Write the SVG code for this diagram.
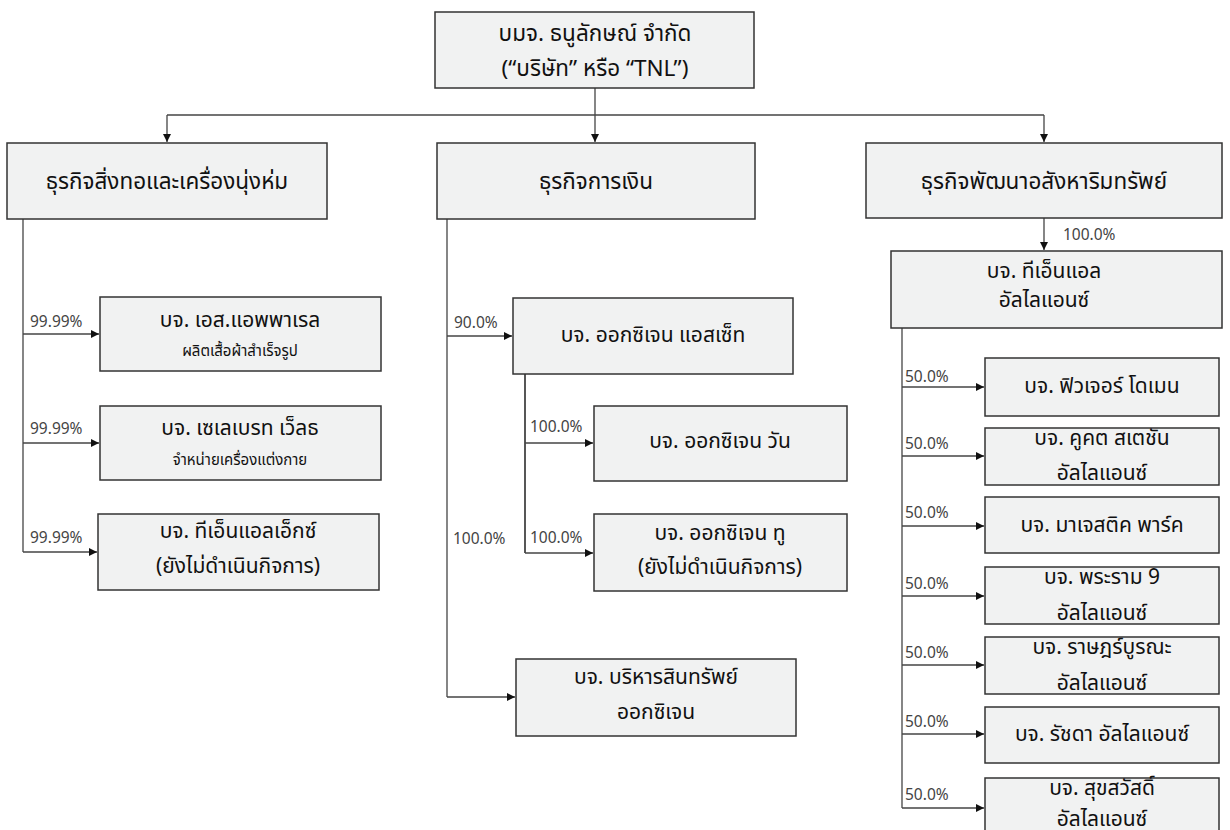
<svg xmlns="http://www.w3.org/2000/svg" width="1230" height="830" viewBox="0 0 1230 830">
<style>
.box{fill:#f1f2f2;stroke:#333;stroke-width:1.5}
.t{font-family:"Noto Sans Thai","Tahoma","DejaVu Sans","Noto Sans",sans-serif;fill:#111;text-anchor:middle}
.big{font-size:22.5px}
.mid{font-size:21px}
.sm{font-size:15px}
.pct{font-family:"Noto Sans Thai","Tahoma","DejaVu Sans","Noto Sans",sans-serif;font-size:15.5px;fill:#444}
.ln{fill:none;stroke:#444;stroke-width:1.3}
</style>
<defs>
<marker id="ah" markerUnits="userSpaceOnUse" markerWidth="9" markerHeight="9" refX="8" refY="4" orient="auto">
<path d="M0,0 L8,4 L0,8 z" fill="#111"/>
</marker>
</defs>
<rect width="1230" height="830" fill="#fff"/>
<g id="connectors">
<path class="ln" d="M595,88 V142" marker-end="url(#ah)"/>
<path class="ln" d="M167,115 H1044"/>
<path class="ln" d="M167,115 V142" marker-end="url(#ah)"/>
<path class="ln" d="M1044,115 V142" marker-end="url(#ah)"/>
<path class="ln" d="M23,219 V552"/>
<path class="ln" d="M23,334 H99" marker-end="url(#ah)"/>
<path class="ln" d="M23,443 H99" marker-end="url(#ah)"/>
<path class="ln" d="M23,552 H97" marker-end="url(#ah)"/>
<path class="ln" d="M447,219 V697"/>
<path class="ln" d="M447,336 H512" marker-end="url(#ah)"/>
<path class="ln" d="M447,697 H515" marker-end="url(#ah)"/>
<path class="ln" d="M525,374 V553" style="stroke-width:1.8"/>
<path class="ln" d="M525,443 H593" marker-end="url(#ah)"/>
<path class="ln" d="M525,553 H593" marker-end="url(#ah)"/>
<path class="ln" d="M1044,218 V250" marker-end="url(#ah)"/>
<path class="ln" d="M902,328 V808"/>
<path class="ln" d="M902,387 H984" marker-end="url(#ah)"/>
<path class="ln" d="M902,456 H984" marker-end="url(#ah)"/>
<path class="ln" d="M902,526 H984" marker-end="url(#ah)"/>
<path class="ln" d="M902,596 H984" marker-end="url(#ah)"/>
<path class="ln" d="M902,665 H984" marker-end="url(#ah)"/>
<path class="ln" d="M902,734 H984" marker-end="url(#ah)"/>
<path class="ln" d="M902,808 H984" marker-end="url(#ah)"/>
<text class="pct" x="30" y="327">99.99%</text>
<text class="pct" x="30" y="434">99.99%</text>
<text class="pct" x="30" y="543">99.99%</text>
<text class="pct" x="454" y="328">90.0%</text>
<text class="pct" x="530" y="432">100.0%</text>
<text class="pct" x="530" y="543">100.0%</text>
<text class="pct" x="453" y="544">100.0%</text>
<text class="pct" x="1063" y="240">100.0%</text>
<text class="pct" x="905" y="382">50.0%</text>
<text class="pct" x="905" y="449">50.0%</text>
<text class="pct" x="905" y="518">50.0%</text>
<text class="pct" x="905" y="589">50.0%</text>
<text class="pct" x="905" y="658">50.0%</text>
<text class="pct" x="905" y="727">50.0%</text>
<text class="pct" x="905" y="800">50.0%</text>
</g>
<g id="tnl">
<rect class="box" x="435" y="12" width="319" height="76"/>
<text class="t big" x="595" y="41">บมจ. ธนูลักษณ์ จำกัด</text>
<text class="t big" x="595" y="76">(“บริษัท” หรือ “TNL”)</text>
</g>
<g id="textile">
<rect class="box" x="7" y="143" width="320" height="76"/>
<text class="t big" x="167" y="189">ธุรกิจสิ่งทอและเครื่องนุ่งห่ม</text>
</g>
<g id="finance">
<rect class="box" x="437" y="143" width="318" height="76"/>
<text class="t big" x="596" y="189">ธุรกิจการเงิน</text>
</g>
<g id="property">
<rect class="box" x="866" y="143" width="356" height="75"/>
<text class="t big" x="1044" y="189">ธุรกิจพัฒนาอสังหาริมทรัพย์</text>
</g>
<g id="s-apparel">
<rect class="box" x="100" y="297" width="281" height="74"/>
<text class="t mid" x="240" y="327">บจ. เอส.แอพพาเรล</text>
<text class="t sm" x="240" y="356">ผลิตเสื้อผ้าสำเร็จรูป</text>
</g>
<g id="celebrate">
<rect class="box" x="100" y="406" width="281" height="74"/>
<text class="t mid" x="240" y="435">บจ. เซเลเบรท เว็ลธ</text>
<text class="t sm" x="240" y="465">จำหน่ายเครื่องแต่งกาย</text>
</g>
<g id="tnlx">
<rect class="box" x="98" y="514" width="281" height="76"/>
<text class="t mid" x="238" y="538">บจ. ทีเอ็นแอลเอ็กซ์</text>
<text class="t mid" x="238" y="573">(ยังไม่ดำเนินกิจการ)</text>
</g>
<g id="oxygen-asset">
<rect class="box" x="513" y="298" width="280" height="76"/>
<text class="t mid" x="653" y="342">บจ. ออกซิเจน แอสเซ็ท</text>
</g>
<g id="oxygen-one">
<rect class="box" x="594" y="406" width="253" height="75"/>
<text class="t mid" x="720" y="448">บจ. ออกซิเจน วัน</text>
</g>
<g id="oxygen-two">
<rect class="box" x="594" y="514" width="253" height="77"/>
<text class="t mid" x="720" y="540">บจ. ออกซิเจน ทู</text>
<text class="t mid" x="720" y="574">(ยังไม่ดำเนินกิจการ)</text>
</g>
<g id="oxygen-am">
<rect class="box" x="516" y="659" width="280" height="77"/>
<text class="t mid" x="656" y="684">บจ. บริหารสินทรัพย์</text>
<text class="t mid" x="656" y="719">ออกซิเจน</text>
</g>
<g id="tnl-alliance">
<rect class="box" x="891" y="251" width="331" height="77"/>
<text class="t mid" x="1044" y="278">บจ. ทีเอ็นแอล</text>
<text class="t mid" x="1044" y="307">อัลไลแอนซ์</text>
</g>
<g id="future-domain">
<rect class="box" x="985" y="358" width="234" height="58"/>
<text class="t mid" x="1102" y="393">บจ. ฟิวเจอร์ โดเมน</text>
</g>
<g id="cookat">
<rect class="box" x="985" y="428" width="234" height="57"/>
<text class="t mid" x="1102" y="445">บจ. คูคต สเตชัน</text>
<text class="t mid" x="1102" y="480">อัลไลแอนซ์</text>
</g>
<g id="majestic">
<rect class="box" x="985" y="497" width="234" height="56"/>
<text class="t mid" x="1102" y="532">บจ. มาเจสติค พาร์ค</text>
</g>
<g id="rama9">
<rect class="box" x="985" y="567" width="234" height="57"/>
<text class="t mid" x="1102" y="584">บจ. พระราม 9</text>
<text class="t mid" x="1102" y="620">อัลไลแอนซ์</text>
</g>
<g id="ratburana">
<rect class="box" x="985" y="637" width="234" height="57"/>
<text class="t mid" x="1102" y="654">บจ. ราษฎร์บูรณะ</text>
<text class="t mid" x="1102" y="690">อัลไลแอนซ์</text>
</g>
<g id="ratchada">
<rect class="box" x="985" y="707" width="234" height="56"/>
<text class="t mid" x="1102" y="741">บจ. รัชดา อัลไลแอนซ์</text>
</g>
<g id="suksawat">
<rect class="box" x="985" y="778" width="234" height="60"/>
<text class="t mid" x="1102" y="795">บจ. สุขสวัสดิ์</text>
<text class="t mid" x="1102" y="826">อัลไลแอนซ์</text>
</g>
</svg>
